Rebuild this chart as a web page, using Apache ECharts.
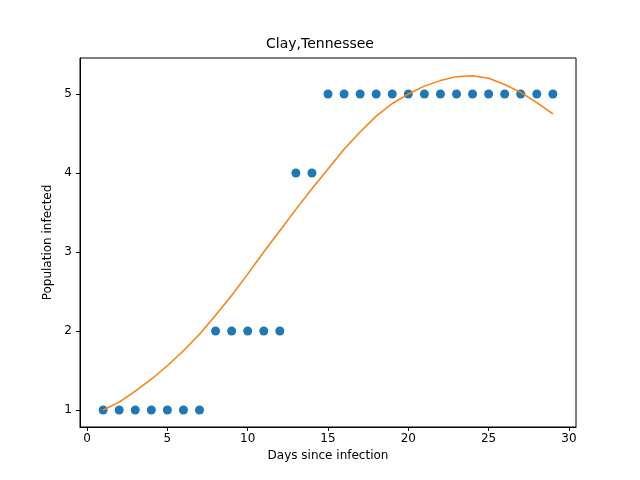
<!DOCTYPE html>
<html>
<head>
<meta charset="utf-8">
<script src="https://cdn.jsdelivr.net/npm/echarts@6/dist/echarts.min.js"></script>
<style>html,body{margin:0;padding:0;background:#fff}</style>
</head>
<body>
<div id="chart" style="width:640px;height:480px"></div>
<script>
const days = [1,2,3,4,5,6,7,8,9,10,11,12,13,14,15,16,17,18,19,20,21,22,23,24,25,26,27,28,29];
const infected = [1,1,1,1,1,1,1,2,2,2,2,2,4,4,5,5,5,5,5,5,5,5,5,5,5,5,5,5,5];
const fitted = [1.0,1.1,1.24,1.39,1.56,1.75,1.96,2.2,2.45,2.72,3.0,3.27,3.54,3.8,4.05,4.3,4.52,4.72,4.88,5.0,5.1,5.17,5.22,5.23,5.2,5.12,5.02,4.89,4.75];
const xTicks = [0,5,10,15,20,25,30];
const yTicks = [1,2,3,4,5];

const font = "DejaVu Sans";
const chart = echarts.init(document.getElementById("chart"));
const axisCommon = {
  axisLine: { show: true, onZero: false, lineStyle: { color: "#000", width: 1 } },
  axisTick: { show: true, inside: false, length: 4, lineStyle: { color: "#000" } },
  axisLabel: { color: "#000", fontFamily: font, fontSize: 12 },
  splitLine: { show: false },
  nameLocation: "middle",
  nameTextStyle: { color: "#000", fontFamily: font, fontSize: 12 }
};
chart.setOption({
  animation: false,
  title: { text: "Clay,Tennessee", left: "center", top: 32,
    textStyle: { fontFamily: font, fontSize: 14, fontWeight: "normal", color: "#000" } },
  grid: { left: 80, right: 64, top: 58, bottom: 53, show: true, borderColor: "#000", borderWidth: 1 },
  xAxis: Object.assign({}, axisCommon, {
    type: "value", min: -0.44, max: 30.44, name: "Days since infection", nameGap: 22,
    axisTick: Object.assign({}, axisCommon.axisTick, { customValues: xTicks }),
    axisLabel: Object.assign({}, axisCommon.axisLabel, { customValues: xTicks, margin: 6 })
  }),
  yAxis: Object.assign({}, axisCommon, {
    type: "value", min: 0.785, max: 5.456, name: "Population infected", nameGap: 26,
    axisTick: Object.assign({}, axisCommon.axisTick, { customValues: yTicks }),
    axisLabel: Object.assign({}, axisCommon.axisLabel, { customValues: yTicks, margin: 8 })
  }),
  series: [
    { type: "scatter", data: days.map((d, i) => [d, infected[i]]), symbolSize: 9,
      itemStyle: { color: "#1f77b4", opacity: 1 } },
    { type: "line", data: days.map((d, i) => [d, fitted[i]]), showSymbol: false,
      lineStyle: { color: "#ff7f0e", width: 1.5 } }
  ]
});
</script>
</body>
</html>
